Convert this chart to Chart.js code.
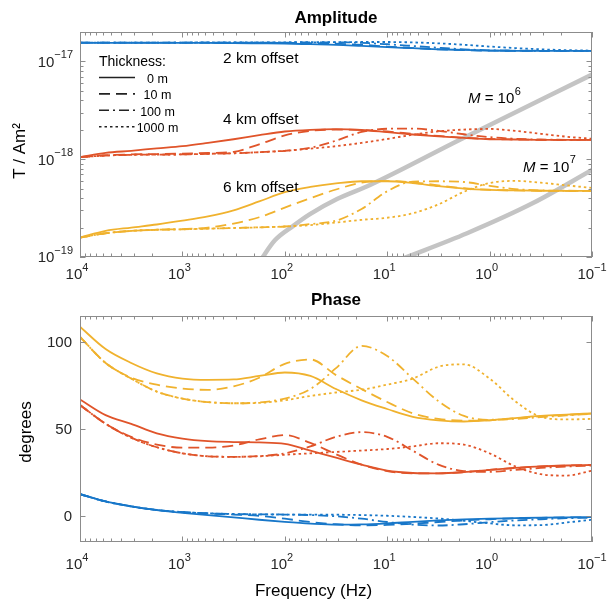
<!DOCTYPE html>
<html>
<head>
<meta charset="utf-8">
<script src="https://cdn.jsdelivr.net/npm/chart.js@4.4.1/dist/chart.umd.min.js"></script>
<style>
  html, body { margin: 0; padding: 0; background: #fff; }
  #wrap { position: relative; width: 610px; height: 602px; }
  canvas { position: absolute; left: 0; }
  #amp { top: 0; }
  #pha { top: 290px; }
</style>
</head>
<body>
<div id="wrap">
  <canvas id="amp" width="610" height="290"></canvas>
  <canvas id="pha" width="610" height="312"></canvas>
</div>
<script>
// ---- data -------------------------------------------------------------
// frequency samples (Hz), from 10 kHz down to 0.1 Hz
const FREQ = [10000, 5623, 3162, 1778, 1000, 562.3, 316.2, 177.8, 100, 56.23, 31.62,
              17.78, 10, 5.623, 3.162, 1.778, 1, 0.5623, 0.3162, 0.1778, 0.1];

const THICKNESS = ['0 m', '10 m', '100 m', '1000 m'];
const OFFSETS = ['2 km offset', '4 km offset', '6 km offset'];

// amplitude, T / Am²
const AMP_2KM_0 = [1.55e-17, 1.55e-17, 1.55e-17, 1.55e-17, 1.55e-17, 1.545e-17, 1.54e-17, 1.53e-17, 1.52e-17, 1.50e-17, 1.48e-17,
                   1.44e-17, 1.40e-17, 1.365e-17, 1.33e-17, 1.31e-17, 1.29e-17, 1.285e-17, 1.28e-17, 1.28e-17, 1.28e-17];
const AMP_2KM_10 = [1.56e-17, 1.56e-17, 1.56e-17, 1.56e-17, 1.56e-17, 1.56e-17, 1.56e-17, 1.555e-17, 1.55e-17, 1.54e-17, 1.52e-17,
                    1.48e-17, 1.42e-17, 1.37e-17, 1.33e-17, 1.305e-17, 1.29e-17, 1.285e-17, 1.28e-17, 1.28e-17, 1.28e-17];
const AMP_2KM_100 = [1.56e-17, 1.56e-17, 1.56e-17, 1.56e-17, 1.56e-17, 1.56e-17, 1.56e-17, 1.56e-17, 1.56e-17, 1.565e-17, 1.57e-17,
                     1.55e-17, 1.50e-17, 1.44e-17, 1.38e-17, 1.33e-17, 1.30e-17, 1.29e-17, 1.285e-17, 1.28e-17, 1.28e-17];
const AMP_2KM_1000 = [1.56e-17, 1.56e-17, 1.56e-17, 1.56e-17, 1.56e-17, 1.565e-17, 1.565e-17, 1.57e-17, 1.57e-17, 1.575e-17, 1.575e-17,
                      1.58e-17, 1.58e-17, 1.565e-17, 1.53e-17, 1.48e-17, 1.42e-17, 1.37e-17, 1.33e-17, 1.305e-17, 1.29e-17];

const AMP_4KM_0 = [1.05e-18, 1.16e-18, 1.22e-18, 1.29e-18, 1.36e-18, 1.47e-18, 1.60e-18, 1.76e-18, 1.92e-18, 2.00e-18, 2.03e-18,
                   1.99e-18, 1.89e-18, 1.79e-18, 1.71e-18, 1.65e-18, 1.60e-18, 1.59e-18, 1.58e-18, 1.58e-18, 1.58e-18];
const AMP_4KM_10 = [1.05e-18, 1.10e-18, 1.12e-18, 1.13e-18, 1.14e-18, 1.16e-18, 1.19e-18, 1.42e-18, 1.75e-18, 1.95e-18, 2.01e-18,
                    1.99e-18, 1.92e-18, 1.82e-18, 1.73e-18, 1.66e-18, 1.61e-18, 1.59e-18, 1.58e-18, 1.58e-18, 1.58e-18];
const AMP_4KM_100 = [1.05e-18, 1.09e-18, 1.11e-18, 1.115e-18, 1.12e-18, 1.135e-18, 1.15e-18, 1.18e-18, 1.22e-18, 1.31e-18, 1.55e-18,
                     1.90e-18, 2.05e-18, 2.06e-18, 1.95e-18, 1.80e-18, 1.68e-18, 1.62e-18, 1.59e-18, 1.58e-18, 1.58e-18];
const AMP_4KM_1000 = [1.05e-18, 1.09e-18, 1.11e-18, 1.115e-18, 1.12e-18, 1.135e-18, 1.15e-18, 1.18e-18, 1.22e-18, 1.28e-18, 1.36e-18,
                      1.47e-18, 1.61e-18, 1.78e-18, 1.93e-18, 2.01e-18, 2.04e-18, 1.95e-18, 1.82e-18, 1.70e-18, 1.62e-18];

const AMP_6KM_0 = [1.58e-19, 1.85e-19, 2.00e-19, 2.15e-19, 2.35e-19, 2.60e-19, 3.00e-19, 3.70e-19, 4.60e-19, 5.20e-19, 5.65e-19,
                   5.95e-19, 5.95e-19, 5.70e-19, 5.30e-19, 5.00e-19, 4.85e-19, 4.80e-19, 4.76e-19, 4.75e-19, 4.75e-19];
const AMP_6KM_10 = [1.58e-19, 1.75e-19, 1.85e-19, 1.90e-19, 1.93e-19, 2.00e-19, 2.20e-19, 2.55e-19, 3.20e-19, 4.00e-19, 4.90e-19,
                    5.75e-19, 5.98e-19, 5.80e-19, 5.40e-19, 5.05e-19, 4.87e-19, 4.80e-19, 4.76e-19, 4.75e-19, 4.75e-19];
const AMP_6KM_100 = [1.58e-19, 1.75e-19, 1.85e-19, 1.90e-19, 1.92e-19, 1.95e-19, 1.98e-19, 2.01e-19, 2.05e-19, 2.17e-19, 2.35e-19,
                     3.10e-19, 4.70e-19, 5.90e-19, 5.95e-19, 5.85e-19, 5.35e-19, 4.95e-19, 4.80e-19, 4.76e-19, 4.75e-19];
const AMP_6KM_1000 = [1.58e-19, 1.75e-19, 1.85e-19, 1.90e-19, 1.92e-19, 1.95e-19, 1.98e-19, 2.01e-19, 2.05e-19, 2.12e-19, 2.25e-19,
                      2.40e-19, 2.52e-19, 2.80e-19, 3.45e-19, 4.65e-19, 5.70e-19, 6.00e-19, 5.75e-19, 5.40e-19, 5.10e-19];

// phase, degrees
const PHASE_2KM_0 = [12.5, 8.3, 5.5, 3.3, 1.8, 0.5, -0.8, -2.2, -3.4, -4.4, -5.0, -4.9, -4.3, -3.4, -2.6, -2.0, -1.6, -1.3, -1.0, -0.8, -0.7];
const PHASE_2KM_10 = [12.5, 8.3, 5.5, 3.4, 2.2, 1.4, 0.8, 0.0, -1.6, -3.5, -4.8, -5.4, -5.2, -4.5, -3.5, -2.6, -1.9, -1.4, -1.1, -0.9, -0.7];
const PHASE_2KM_100 = [12.5, 8.3, 5.5, 3.4, 2.2, 1.5, 1.1, 0.9, 0.8, 0.5, -0.2, -1.6, -3.5, -5.0, -5.5, -4.8, -3.6, -2.6, -1.9, -1.3, -1.0];
const PHASE_2KM_1000 = [12.5, 8.3, 5.5, 3.4, 2.2, 1.5, 1.1, 0.9, 0.8, 0.8, 0.7, 0.5, 0.1, -0.6, -1.5, -2.8, -4.3, -5.4, -5.3, -3.8, -2.2];

const PHASE_4KM_0 = [67, 58, 53, 47.5, 44.5, 43, 42.5, 42.3, 41.5, 37.5, 33.5, 29.5, 26, 24.7, 24.5, 25.2, 26.5, 27.6, 28.5, 29, 29.3];
const PHASE_4KM_10 = [63.8, 53, 45.5, 41, 39.3, 39.3, 40.5, 44, 46.5, 42, 35.5, 29.5, 25.8, 24.5, 24.5, 25.2, 26.5, 27.6, 28.5, 29, 29.3];
const PHASE_4KM_100 = [63.8, 53, 45, 39.5, 36, 34.3, 34, 34.4, 36, 40, 45.5, 48.2, 45.5, 37.5, 29.5, 25.8, 25.3, 26.5, 27.6, 28.4, 29];
const PHASE_4KM_1000 = [63.8, 53, 45, 39.5, 36, 34.3, 34, 34.3, 35.2, 36, 36.8, 37.6, 38.5, 40, 41.8, 41, 36, 28.5, 24, 23.2, 26];

const PHASE_6KM_0 = [108.8, 96, 88, 82, 79, 78.3, 78.5, 80.5, 82.5, 80.5, 73, 66.5, 61.5, 57, 55, 54.3, 55, 56.3, 57.5, 58.3, 59];
const PHASE_6KM_10 = [103, 88, 79.5, 75.5, 73.3, 72.5, 74.5, 79.5, 87.5, 90, 81, 73, 65.5, 59, 55.8, 54.8, 55, 56.2, 57.3, 58.1, 58.8];
const PHASE_6KM_100 = [103, 88, 79, 71.5, 67.5, 65.5, 64.8, 65.3, 67.5, 73, 85, 97.8, 92, 79, 66, 57.5, 55.3, 55.8, 56.8, 57.8, 58.8];
const PHASE_6KM_1000 = [103, 88, 79, 71.5, 67.5, 65.5, 64.8, 65, 66.5, 69, 71, 72.6, 75.5, 79, 85.8, 87.2, 79, 66, 57, 55.5, 55.8];

// reference lines for M = 10^6 and M = 10^7
const M6_FREQ = [177, 125, 83.2, 56.8, 30.9, 14.7, 1.95, 0.1];
const M6_AMP = [8.9e-20, 1.48e-19, 2.07e-19, 2.74e-19, 3.91e-19, 5.45e-19, 1.58e-18, 7.33e-18];
const M7_FREQ = [7.2, 1.66, 0.377, 0.1];
const M7_AMP = [9.55e-20, 1.75e-19, 3.56e-19, 7.76e-19];

// axis ticks
const X_TICKS = [1e4, 1e3, 100, 10, 1, 0.1];
const X_TICK_EXP = ['4', '3', '2', '1', '0', '\u22121'];
const AMP_TICKS = [1e-19, 1e-18, 1e-17];
const AMP_TICK_EXP = ['\u221219', '\u221218', '\u221217'];
const PHASE_TICKS = [0, 50, 100];

// ---- styling ----------------------------------------------------------
const FONT = '"Liberation Sans", Arial, Helvetica, sans-serif';
const INK = '#262626';
const FRAME_COLOR = '#8c8c8c';
const OFFSET_COLORS = ['#1877c9', '#e0542a', '#f0b22e'];
const THICKNESS_DASH = [[], [11, 6], [10, 4, 2, 4], [2.5, 3]];
const M_COLOR = '#c4c4c4';
const CURVE_WIDTH = 1.8;

Chart.defaults.font.family = FONT;

function points(freqs, vals) {
  return freqs.map((f, i) => ({ x: f, y: vals[i] }));
}

function lineSet(freqs, vals, color, dash, width) {
  return {
    data: points(freqs, vals),
    borderColor: color,
    borderDash: dash,
    borderWidth: width,
    pointRadius: 0,
    fill: false,
    clip: 0,
    cubicInterpolationMode: 'monotone'
  };
}

// one dataset per offset and thickness; solid curves first so they sit on top
function familyDatasets(groups) {
  const sets = [];
  for (let t = 0; t < THICKNESS.length; t++) {
    groups.forEach((g, o) => sets.push(lineSet(FREQ, g[t], OFFSET_COLORS[o], THICKNESS_DASH[t], CURVE_WIDTH)));
  }
  return sets;
}

const AMP_GROUPS = [
  [AMP_2KM_0, AMP_2KM_10, AMP_2KM_100, AMP_2KM_1000],
  [AMP_4KM_0, AMP_4KM_10, AMP_4KM_100, AMP_4KM_1000],
  [AMP_6KM_0, AMP_6KM_10, AMP_6KM_100, AMP_6KM_1000]
];
const PHASE_GROUPS = [
  [PHASE_2KM_0, PHASE_2KM_10, PHASE_2KM_100, PHASE_2KM_1000],
  [PHASE_4KM_0, PHASE_4KM_10, PHASE_4KM_100, PHASE_4KM_1000],
  [PHASE_6KM_0, PHASE_6KM_10, PHASE_6KM_100, PHASE_6KM_1000]
];

// ---- drawing helpers --------------------------------------------------
function minorLogValues(lo, hi) {
  const out = [];
  for (let d = Math.floor(Math.log10(lo)); d <= Math.ceil(Math.log10(hi)); d++) {
    for (let k = 2; k <= 9; k++) {
      const v = k * Math.pow(10, d);
      if (v > lo * 1.0001 && v < hi * 0.9999) out.push(v);
    }
  }
  return out;
}

// "10" with a raised exponent
function drawPower(ctx, exp, x, y, align) {
  ctx.textBaseline = 'alphabetic';
  ctx.textAlign = 'left';
  ctx.font = '15px ' + FONT;
  const wb = ctx.measureText('10').width;
  ctx.font = '11px ' + FONT;
  const we = ctx.measureText(exp).width;
  let x0;
  if (align === 'right') x0 = x - wb - we;
  else x0 = x - (wb + we) / 2 - (exp.charAt(0) === '\u2212' ? 0 : 3);
  ctx.font = '15px ' + FONT;
  ctx.fillText('10', x0, y);
  ctx.font = '11px ' + FONT;
  ctx.fillText(exp, x0 + wb, y - 8.5);
}

function vText(ctx, text, x, y, font) {
  ctx.save();
  ctx.translate(x, y);
  ctx.rotate(-Math.PI / 2);
  ctx.font = font;
  ctx.textAlign = 'center';
  ctx.textBaseline = 'alphabetic';
  ctx.fillText(text, 0, 0);
  ctx.restore();
}

function axesDecor(cfg) {
  return {
    id: 'axesDecor',
    afterDatasetsDraw(chart) {
      const { ctx, chartArea: a } = chart;
      const xs = chart.scales.x, ys = chart.scales.y;
      ctx.save();
      ctx.setLineDash([]);
      ctx.strokeStyle = FRAME_COLOR;
      ctx.lineWidth = 1;
      ctx.beginPath();
      const tickX = (v, len) => {
        const p = Math.round(xs.getPixelForValue(v)) + 0.5;
        ctx.moveTo(p, a.bottom); ctx.lineTo(p, a.bottom - len);
        ctx.moveTo(p, a.top); ctx.lineTo(p, a.top + len);
      };
      const tickY = (v, len) => {
        const p = Math.round(ys.getPixelForValue(v)) + 0.5;
        ctx.moveTo(a.left, p); ctx.lineTo(a.left + len, p);
        ctx.moveTo(a.right, p); ctx.lineTo(a.right - len, p);
      };
      X_TICKS.forEach(v => tickX(v, 5.5));
      minorLogValues(xs.min, xs.max).forEach(v => tickX(v, 3.5));
      cfg.yTicks.forEach(v => tickY(v, 5.5));
      if (cfg.yLog) minorLogValues(ys.min, ys.max).forEach(v => tickY(v, 3.5));
      ctx.stroke();
      ctx.strokeRect(a.left + 0.5, a.top + 0.5, a.right - a.left - 1, a.bottom - a.top - 1);

      // tick labels
      ctx.fillStyle = INK;
      X_TICKS.forEach((v, i) => drawPower(ctx, X_TICK_EXP[i], xs.getPixelForValue(v), cfg.xLabelY, 'center'));
      cfg.yTicks.forEach((v, i) => {
        const p = ys.getPixelForValue(v);
        if (cfg.yExp) {
          drawPower(ctx, cfg.yExp[i], 73, p + 5.4, 'right');
        } else {
          ctx.font = '15px ' + FONT;
          ctx.textAlign = 'right';
          ctx.textBaseline = 'alphabetic';
          ctx.fillText(String(v), 72, p + 5.4);
        }
      });

      // axis titles
      ctx.fillStyle = '#000';
      vText(ctx, cfg.yTitle, cfg.yTitleX, cfg.yTitleY, '17px ' + FONT);
      if (cfg.xTitle) {
        ctx.font = '17px ' + FONT;
        ctx.textAlign = 'center';
        ctx.textBaseline = 'alphabetic';
        ctx.fillText(cfg.xTitle, cfg.xTitleX, cfg.xTitleY);
      }
      if (cfg.extra) cfg.extra(ctx, chart);
      ctx.restore();
    }
  };
}

// legend, curve labels and M annotations on the amplitude panel
function amplitudeNotes(ctx) {
  ctx.fillStyle = '#000';
  ctx.textAlign = 'left';
  ctx.textBaseline = 'alphabetic';
  ctx.font = '14px ' + FONT;
  ctx.fillText('Thickness:', 99, 66);
  THICKNESS.forEach((t, i) => {
    const ly = 77.5 + i * 16.4;
    ctx.strokeStyle = '#222';
    ctx.lineWidth = 1.6;
    ctx.setLineDash(THICKNESS_DASH[i]);
    ctx.beginPath();
    ctx.moveTo(99, ly);
    ctx.lineTo(135, ly);
    ctx.stroke();
    ctx.setLineDash([]);
    ctx.font = '12.5px ' + FONT;
    ctx.textAlign = 'center';
    ctx.fillText(t, 157.5, ly + 5.5);
  });

  ctx.textAlign = 'left';
  ctx.font = '15.5px ' + FONT;
  const labelY = [62.5, 124, 191.5];
  OFFSETS.forEach((s, i) => ctx.fillText(s, 223, labelY[i]));

  const drawM = (exp, x, y) => {
    ctx.font = 'italic 15px ' + FONT;
    ctx.fillText('M', x, y);
    let w = ctx.measureText('M').width;
    ctx.font = '15px ' + FONT;
    ctx.fillText(' = 10', x + w, y);
    w += ctx.measureText(' = 10').width;
    ctx.font = '11px ' + FONT;
    ctx.fillText(exp, x + w + 0.5, y - 8.5);
  };
  drawM('6', 468, 103);
  drawM('7', 523, 171.5);
}

const baseOptions = {
  responsive: false,
  animation: false,
  devicePixelRatio: 1,
  events: [],
  plugins: { legend: { display: false }, tooltip: { enabled: false } }
};

// ---- amplitude panel --------------------------------------------------
new Chart(document.getElementById('amp'), {
  type: 'line',
  data: {
    datasets: familyDatasets(AMP_GROUPS).concat([
      lineSet(M6_FREQ, M6_AMP, M_COLOR, [], 4.5),
      lineSet(M7_FREQ, M7_AMP, M_COLOR, [], 4.5)
    ])
  },
  options: Object.assign({}, baseOptions, {
    layout: { padding: { top: 0, right: 18, bottom: 0, left: 0 } },
    plugins: {
      legend: { display: false },
      tooltip: { enabled: false },
      title: {
        display: true, text: 'Amplitude', fullSize: false, color: '#000',
        font: { size: 17, weight: 'bold' }, padding: { top: 8, bottom: 3.6 }
      }
    },
    scales: {
      x: {
        type: 'logarithmic', reverse: true, min: 0.1, max: 1e4,
        ticks: { display: false }, grid: { display: false }, border: { display: false },
        afterFit: s => { s.height = 33; }
      },
      y: {
        type: 'logarithmic', min: 1e-19, max: 2e-17,
        ticks: { display: false }, grid: { display: false }, border: { display: false },
        afterFit: s => { s.width = 80; }
      }
    }
  }),
  plugins: [axesDecor({
    yTicks: AMP_TICKS, yExp: AMP_TICK_EXP, yLog: true, xLabelY: 279,
    yTitle: 'T / Am\u00B2', yTitleX: 25, yTitleY: 151,
    extra: amplitudeNotes
  })]
});

// ---- phase panel ------------------------------------------------------
new Chart(document.getElementById('pha'), {
  type: 'line',
  data: { datasets: familyDatasets(PHASE_GROUPS) },
  options: Object.assign({}, baseOptions, {
    layout: { padding: { top: 0, right: 18, bottom: 0, left: 0 } },
    plugins: {
      legend: { display: false },
      tooltip: { enabled: false },
      title: {
        display: true, text: 'Phase', fullSize: false, color: '#000',
        font: { size: 17, weight: 'bold' }, padding: { top: 0, bottom: 5.6 }
      }
    },
    scales: {
      x: {
        type: 'logarithmic', reverse: true, min: 0.1, max: 1e4,
        ticks: { display: false }, grid: { display: false }, border: { display: false },
        afterFit: s => { s.height = 60; }
      },
      y: {
        type: 'linear', min: -15, max: 115,
        ticks: { display: false }, grid: { display: false }, border: { display: false },
        afterFit: s => { s.width = 80; }
      }
    }
  }),
  plugins: [axesDecor({
    yTicks: PHASE_TICKS, yExp: null, yLog: false, xLabelY: 279,
    yTitle: 'degrees', yTitleX: 30.5, yTitleY: 142,
    xTitle: 'Frequency (Hz)', xTitleX: 313.5, xTitleY: 306
  })]
});
</script>
</body>
</html>
